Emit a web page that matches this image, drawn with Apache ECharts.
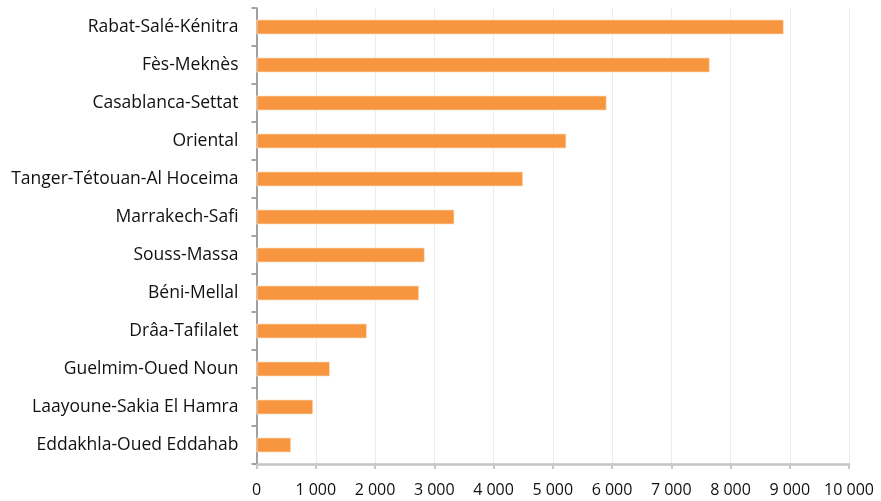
<!DOCTYPE html>
<html><head><meta charset="utf-8">
<script src="https://cdn.jsdelivr.net/npm/echarts@6/dist/echarts.min.js"></script>
<style>html,body{margin:0;padding:0;background:#fff}#c{width:881px;height:501px}</style>
</head><body><div id="c"></div>
<script>
const regions = ["Rabat-Salé-Kénitra","Fès-Meknès","Casablanca-Settat","Oriental","Tanger-Tétouan-Al Hoceima","Marrakech-Safi","Souss-Massa","Béni-Mellal","Drâa-Tafilalet","Guelmim-Oued Noun","Laayoune-Sakia El Hamra","Eddakhla-Oued Eddahab"];
const values = [8900,7650,5910,5230,4500,3340,2840,2745,1865,1240,957,585];
const xTicks = {min:0, max:10000, interval:1000};

const chart = echarts.init(document.getElementById('c'), null, {renderer:'canvas'});
const font = 'Open Sans';
chart.setOption({
  animation:false,
  grid:{left:256.5, right:32, top:8, bottom:37, containLabel:false},
  xAxis:{type:'value', min:xTicks.min, max:xTicks.max, interval:xTicks.interval,
    axisLine:{show:true, lineStyle:{color:'#c4c4c4', width:2.5}},
    axisTick:{show:true, length:5, lineStyle:{color:'#c8c8c8', width:2}},
    splitLine:{show:true, lineStyle:{color:'#ececec', width:1}},
    axisLabel:{color:'#111', fontFamily:font, fontSize:16, margin:18,
      formatter:v=>String(v).replace(/\B(?=(\d{3})+(?!\d))/g,' ')}
  },
  yAxis:{type:'category', data:regions, inverse:true,
    axisLine:{show:true, lineStyle:{color:'#868686', width:1.5}},
    axisTick:{show:true, length:5, lineStyle:{color:'#868686', width:1.5}},
    axisLabel:{color:'#111', fontFamily:font, fontSize:17.5, margin:18}
  },
  series:[{type:'bar', data:values, barWidth:15,
    itemStyle:{color:'#F7963E', borderColor:'#fde6d2', borderWidth:0.8}}]
});
</script></body></html>
